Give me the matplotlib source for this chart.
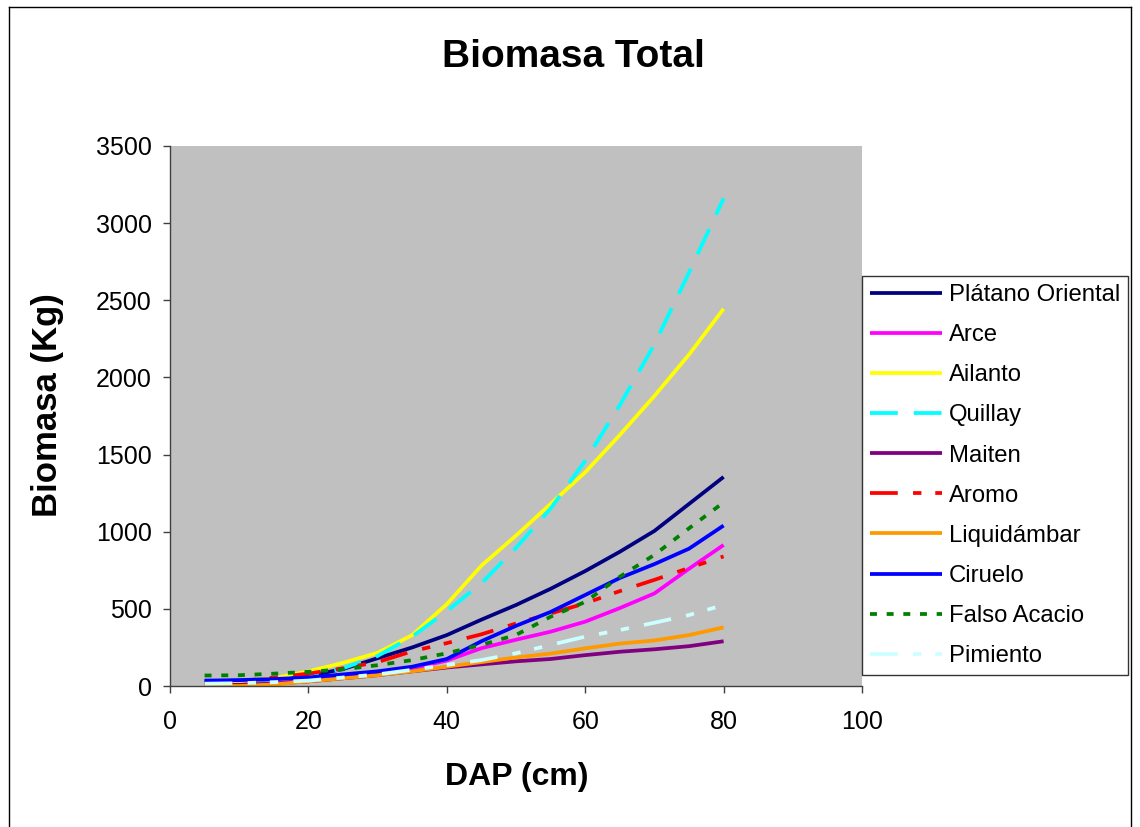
import matplotlib
matplotlib.use("Agg")
import matplotlib.pyplot as plt
from matplotlib.lines import Line2D

plt.rcParams['font.family'] = ['Liberation Sans', 'DejaVu Sans']
plt.rcParams['lines.scale_dashes'] = False

# DAP (cm)
dap = [5, 10, 15, 20, 25, 30, 35, 40, 45, 50, 55, 60, 65, 70, 75, 80]

# Biomasa (Kg) por especie
platano  = [30, 35, 45, 65, 110, 180, 250, 330, 430, 525, 630, 745, 870, 1005, 1180, 1355]
arce     = [10, 12, 20, 35, 55, 80, 115, 165, 245, 300, 352, 417, 505, 600, 760, 914]
ailanto  = [20, 30, 50, 95, 150, 215, 330, 530, 780, 975, 1180, 1385, 1627, 1880, 2148, 2445]
quillay  = [2, 5, 20, 55, 115, 195, 320, 485, 666, 895, 1150, 1460, 1820, 2215, 2680, 3160]
maiten   = [5, 8, 15, 30, 50, 70, 95, 120, 140, 160, 175, 200, 222, 238, 258, 290]
aromo    = [20, 30, 55, 80, 115, 155, 225, 278, 335, 405, 470, 536, 615, 688, 765, 840]
liquid   = [0, 0, 10, 30, 50, 70, 95, 125, 155, 185, 210, 244, 275, 295, 330, 380]
ciruelo  = [35, 38, 45, 55, 75, 95, 125, 175, 290, 390, 480, 590, 700, 790, 890, 1040]
falso    = [68, 70, 80, 92, 108, 135, 168, 212, 266, 331, 449, 545, 708, 850, 1022, 1190]
pimiento = [15, 18, 25, 35, 55, 75, 105, 136, 168, 212, 266, 320, 363, 410, 460, 525]

especies = ["Plátano Oriental", "Arce", "Ailanto", "Quillay", "Maiten",
            "Aromo", "Liquidámbar", "Ciruelo", "Falso Acacio", "Pimiento"]
series = [platano, arce, ailanto, quillay, maiten, aromo, liquid, ciruelo, falso, pimiento]
colores = ["#000080", "#FF00FF", "#FFFF00", "#00FFFF", "#800080",
           "#FF0000", "#FF9900", "#0000FF", "#008000", "#CCFFFF"]
largo_corto = (20, 11, 6, 10, 6, 11)
estilos = [None, None, None, (0, (20, 11.5)), None,
           (0, largo_corto), None, None, (0, (5, 7)), (0, largo_corto)]

fig = plt.figure(figsize=(11.4, 8.27), dpi=100)
ax = fig.add_axes([170 / 1140, 1 - 686 / 827, 692 / 1140, 540 / 827])
ax.set_facecolor("#C0C0C0")

for nombre, y, c, ls in zip(especies, series, colores, estilos):
    kw = dict(color=c, lw=2.7, label=nombre, solid_capstyle="butt", dash_capstyle="butt")
    if ls is not None:
        kw["linestyle"] = ls
    ax.plot(dap, y, **kw)

ax.set_xlim(0, 100)
ax.set_ylim(0, 3500)
ax.set_xticks(range(0, 101, 20))
ax.set_yticks(range(0, 3501, 500))
ax.spines[["top", "right"]].set_visible(False)
for s in ["left", "bottom"]:
    ax.spines[s].set_color("#404040")
    ax.spines[s].set_linewidth(1.0)
ax.tick_params(direction="out", length=5, width=1, color="#404040",
               labelsize=18, pad=8)
ax.tick_params(axis="x", pad=12)

fig.text(573 / 1140, 1 - 57 / 827, "Biomasa Total", fontsize=28, fontweight="bold",
         ha="center", va="center")
fig.text(47 / 1140, 1 - 405 / 827, "Biomasa (Kg)", fontsize=25, fontweight="bold",
         ha="center", va="center", rotation=90)
fig.text(517 / 1140, 1 - 777 / 827, "DAP (cm)", fontsize=23, fontweight="bold",
         ha="center", va="center")

leg = fig.legend(loc="upper left", bbox_to_anchor=(862 / 1140, 1 - 276 / 827),
                 fontsize=17.2, frameon=True, fancybox=False, edgecolor="black",
                 handlelength=3.0, handletextpad=0.3, labelspacing=0.76,
                 borderpad=0.33, borderaxespad=0)
leg.get_frame().set_linewidth(1.0)

# marco exterior del grafico
for xs, ys in [([9, 9], [7, 830]), ([9, 1131], [7, 7]), ([1131, 1131], [7, 830])]:
    fig.add_artist(Line2D([x / 1140 for x in xs], [1 - y / 827 for y in ys],
                          color="black", lw=1.0))

fig.savefig("out.png", dpi=100)
